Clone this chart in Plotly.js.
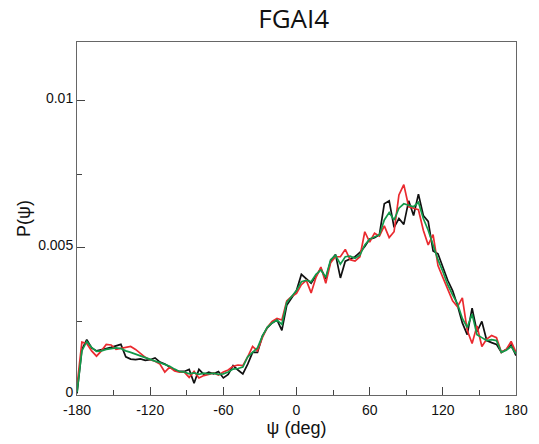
<!DOCTYPE html>
<html>
<head>
<meta charset="utf-8">
<script src="https://cdn.plot.ly/plotly-3.0.1.min.js"></script>
<style>html,body{margin:0;padding:0;background:#fff;}#chart{width:539px;height:444px;}</style>
</head>
<body>
<div id="chart"></div>
<script>
// psi angle bins (deg)
const psi = [-180,-176,-172,-168,-164,-160,-156,-152,-148,-144,-140,-136,-132,-128,-124,-120,-116,-112,-108,-104,-100,-96,-92,-88,-84,-80,-76,-72,-68,-64,-60,-56,-52,-48,-44,-40,-36,-32,-28,-24,-20,-16,-12,-8,-4,0,4,8,12,16,20,24,28,32,36,40,44,48,52,56,60,64,68,72,76,80,84,88,92,96,100,104,108,112,116,120,124,128,132,136,140,144,148,152,156,160,164,168,172,176,180];

const blackP = [0.00005,0.00155,0.00188,0.00160,0.00150,0.00155,0.00158,0.00162,0.00168,0.00172,0.00130,0.00122,0.00120,0.00123,0.00118,0.00120,0.00126,0.00112,0.00105,0.00095,0.00085,0.00080,0.00080,0.00087,0.00040,0.00087,0.00070,0.00078,0.00072,0.00080,0.00058,0.00070,0.00100,0.00085,0.00072,0.00105,0.00145,0.00145,0.00200,0.00228,0.00245,0.00255,0.00220,0.00305,0.00330,0.00355,0.00410,0.00395,0.00380,0.00405,0.00430,0.00395,0.00455,0.00478,0.00398,0.00455,0.00462,0.00470,0.00485,0.00505,0.00530,0.00535,0.00545,0.00650,0.00660,0.00570,0.00600,0.00580,0.00660,0.00610,0.00683,0.00610,0.00590,0.00490,0.00480,0.00435,0.00390,0.00355,0.00305,0.00245,0.00205,0.00295,0.00215,0.00250,0.00185,0.00178,0.00172,0.00145,0.00155,0.00170,0.00134];

const redP = [0.00030,0.00180,0.00175,0.00150,0.00132,0.00150,0.00172,0.00170,0.00155,0.00158,0.00160,0.00165,0.00155,0.00142,0.00128,0.00120,0.00115,0.00105,0.00078,0.00095,0.00082,0.00078,0.00078,0.00060,0.00080,0.00058,0.00066,0.00070,0.00075,0.00068,0.00078,0.00085,0.00098,0.00102,0.00100,0.00130,0.00165,0.00150,0.00195,0.00230,0.00250,0.00260,0.00255,0.00320,0.00335,0.00345,0.00375,0.00390,0.00347,0.00400,0.00435,0.00380,0.00450,0.00470,0.00470,0.00495,0.00460,0.00455,0.00470,0.00555,0.00520,0.00550,0.00540,0.00575,0.00535,0.00555,0.00680,0.00715,0.00640,0.00635,0.00630,0.00560,0.00510,0.00545,0.00440,0.00400,0.00360,0.00320,0.00300,0.00330,0.00220,0.00175,0.00235,0.00165,0.00190,0.00202,0.00195,0.00145,0.00155,0.00182,0.00145];

const greenP = [0.00010,0.00150,0.00182,0.00162,0.00148,0.00150,0.00155,0.00158,0.00160,0.00158,0.00150,0.00145,0.00140,0.00133,0.00127,0.00120,0.00115,0.00110,0.00105,0.00098,0.00088,0.00080,0.00078,0.00072,0.00075,0.00070,0.00074,0.00072,0.00074,0.00070,0.00072,0.00078,0.00088,0.00090,0.00095,0.00130,0.00145,0.00160,0.00200,0.00230,0.00245,0.00255,0.00240,0.00315,0.00335,0.00355,0.00385,0.00390,0.00385,0.00410,0.00425,0.00400,0.00460,0.00475,0.00445,0.00470,0.00472,0.00465,0.00475,0.00510,0.00530,0.00538,0.00545,0.00595,0.00620,0.00595,0.00635,0.00650,0.00645,0.00640,0.00655,0.00600,0.00560,0.00510,0.00460,0.00420,0.00375,0.00340,0.00310,0.00260,0.00230,0.00275,0.00205,0.00195,0.00185,0.00188,0.00185,0.00145,0.00152,0.00165,0.00140];

const xTickVals = [-180, -120, -60, 0, 60, 120, 180];
const xTickText = ['-180', '-120', '-60', '0', '60', '120', '180'];
const yTickVals = [0, 0.005, 0.01];
const yTickText = ['0', '0.005', '0.01'];

const traces = [
  {x: psi, y: blackP, type: 'scatter', mode: 'lines', line: {color: '#111111', width: 1.7}, hoverinfo: 'skip'},
  {x: psi, y: redP, type: 'scatter', mode: 'lines', line: {color: '#ea2a2f', width: 1.7}, hoverinfo: 'skip'},
  {x: psi, y: greenP, type: 'scatter', mode: 'lines', line: {color: '#12994a', width: 1.7}, hoverinfo: 'skip'}
];

const sansFont = '"Liberation Sans", Arial, sans-serif';

const layout = {
  width: 539, height: 444,
  margin: {l: 77, r: 23, t: 42, b: 49},
  paper_bgcolor: '#ffffff', plot_bgcolor: '#ffffff',
  showlegend: false,
  font: {family: sansFont, color: '#111'},
  title: {text: 'FGAI4', x: 0.545, xanchor: 'center', y: 0.958, yanchor: 'middle', font: {family: '"Open Sans", "Noto Sans", sans-serif', size: 26, color: '#111'}},
  xaxis: {
    range: [-180, 180], tickmode: 'array', tickvals: xTickVals, ticktext: xTickText,
    ticks: 'inside', ticklen: 8, tickwidth: 1, tickcolor: '#444', ticklabelstandoff: 2,
    minor: {tickvals: [-150,-90,-30,30,90,150], ticks: 'inside', ticklen: 5, tickcolor: '#444', showgrid: false},
    showgrid: false, zeroline: false, showline: true, linecolor: '#666', linewidth: 1, mirror: true,
    tickfont: {family: sansFont, size: 14, color: '#111'},
    title: {text: 'ψ (deg)', font: {family: sansFont, size: 18, color: '#111'}, standoff: 3}
  },
  yaxis: {
    range: [0, 0.012], tickmode: 'array', tickvals: yTickVals, ticktext: yTickText,
    ticks: 'inside', ticklen: 8, tickwidth: 1, tickcolor: '#444', ticklabelshift: -3,
    minor: {tickvals: [0.0025, 0.0075], ticks: 'inside', ticklen: 5, tickcolor: '#444', showgrid: false},
    showgrid: false, zeroline: false, showline: true, linecolor: '#666', linewidth: 1, mirror: true,
    tickfont: {family: sansFont, size: 14, color: '#111'},
    title: {text: 'P(ψ)', font: {family: sansFont, size: 18, color: '#111'}, standoff: 2}
  }
};

Plotly.newPlot('chart', traces, layout, {staticPlot: true, displayModeBar: false});
</script>
</body>
</html>
